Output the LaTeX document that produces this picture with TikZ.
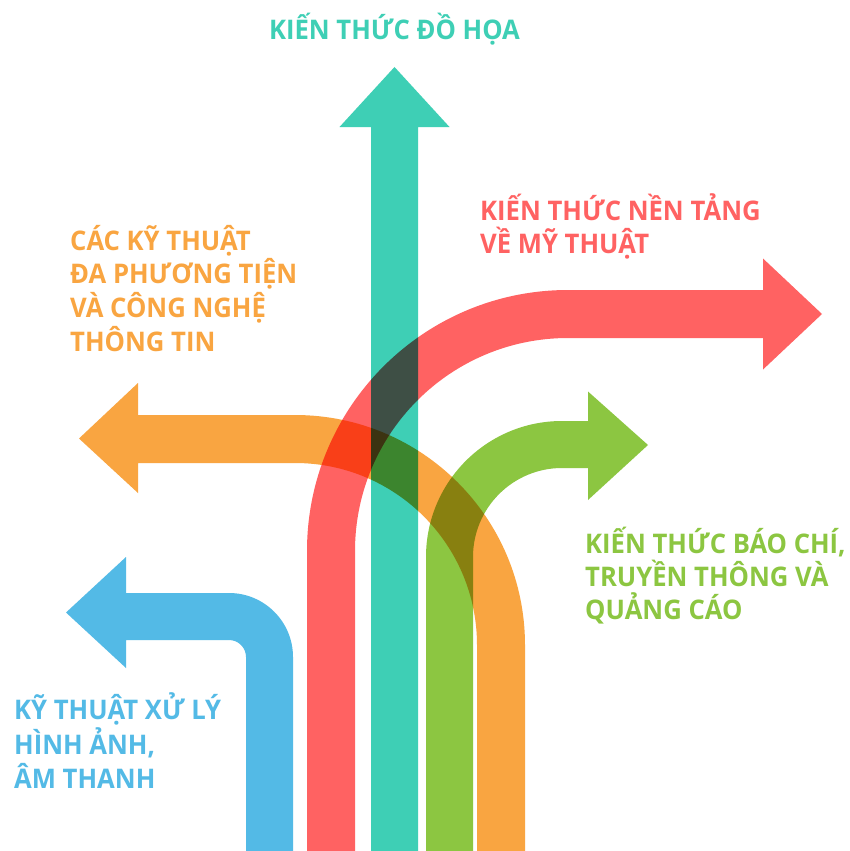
\documentclass[tikz,border=0pt]{standalone}
\usepackage{fontspec}
\setmainfont{Open Sans}[FakeStretch=0.95]
\definecolor{cTeal}{HTML}{3ECFB5}
\definecolor{cRed}{HTML}{FF6262}
\definecolor{cOrange}{HTML}{F9A541}
\definecolor{cGreen}{HTML}{8CC641}
\definecolor{cBlue}{HTML}{53BAE6}
\begin{document}
\begin{tikzpicture}[x=1pt,y=-1pt,
  lbl/.style={anchor=base west, inner sep=0pt, font=\fontsize{27}{27}\selectfont\bfseries}]
\useasboundingbox[fill=white] (0,0) rectangle (850,851);
\begin{scope}[blend mode=multiply]
% teal arrow (up)
\fill[cTeal] (371,851) -- (371,127) -- (339.5,127) -- (394.5,67) -- (449.5,127) -- (418,127) -- (418,851) -- cycle;
% red arrow (up then right)
\fill[cRed] (307,851) -- (307,551) arc[start angle=180, end angle=270, radius=261]
  -- (763,290) -- (763,258.5) -- (822,314) -- (763,369.5) -- (763,338) -- (568,338)
  arc[start angle=270, end angle=180, radius=213] -- (355,851) -- cycle;
% orange arrow (up then left)
\fill[cOrange] (525,851) -- (525,645) arc[start angle=0, end angle=-90, radius=230]
  -- (138,415) -- (138,383) -- (79,438.5) -- (138,493) -- (138,463) -- (295,463)
  arc[start angle=-90, end angle=0, radius=182] -- (477,851) -- cycle;
% green arrow (up then right)
\fill[cGreen] (426,851) -- (426,557) arc[start angle=180, end angle=270, radius=136]
  -- (588,421) -- (588,391.5) -- (648,445) -- (588,500) -- (588,468) -- (562,468)
  arc[start angle=270, end angle=180, radius=89] -- (473,851) -- cycle;
% blue arrow (up then left)
\fill[cBlue] (293,851) -- (293,657) arc[start angle=0, end angle=-90, radius=64]
  -- (126,593) -- (126,557) -- (66,612.5) -- (126,668) -- (126,640) -- (229,640)
  arc[start angle=-90, end angle=0, radius=17] -- (246,851) -- cycle;
\end{scope}
% labels
\node[lbl, cTeal, anchor=base] (t1) at (394.5,39.5) {KIẾN THỨC ĐỒ HỌA};
\node[lbl, cRed] (r1) at (480,220) {KIẾN THỨC NỀN TẢNG};
\node[lbl, cRed] (r2) at (480,253) {VỀ MỸ THUẬT};
\node[lbl, cOrange] (o1) at (70,250) {CÁC KỸ THUẬT};
\node[lbl, cOrange] (o2) at (70,283.5) {ĐA PHƯƠNG TIỆN};
\node[lbl, cOrange] (o3) at (70,317) {VÀ CÔNG NGHỆ};
\node[lbl, cOrange] (o4) at (70,351) {THÔNG TIN};
\node[lbl, cGreen] (g1) at (585,553) {KIẾN THỨC BÁO CHÍ,};
\node[lbl, cGreen] (g2) at (585,586) {TRUYỀN THÔNG VÀ};
\node[lbl, cGreen] (g3) at (585,619) {QUẢNG CÁO};
\node[lbl, cBlue] (b1) at (14,719) {KỸ THUẬT XỬ LÝ};
\node[lbl, cBlue] (b2) at (14,754) {HÌNH ẢNH,};
\node[lbl, cBlue] (b3) at (14,788) {ÂM THANH};
\end{tikzpicture}
\end{document}
